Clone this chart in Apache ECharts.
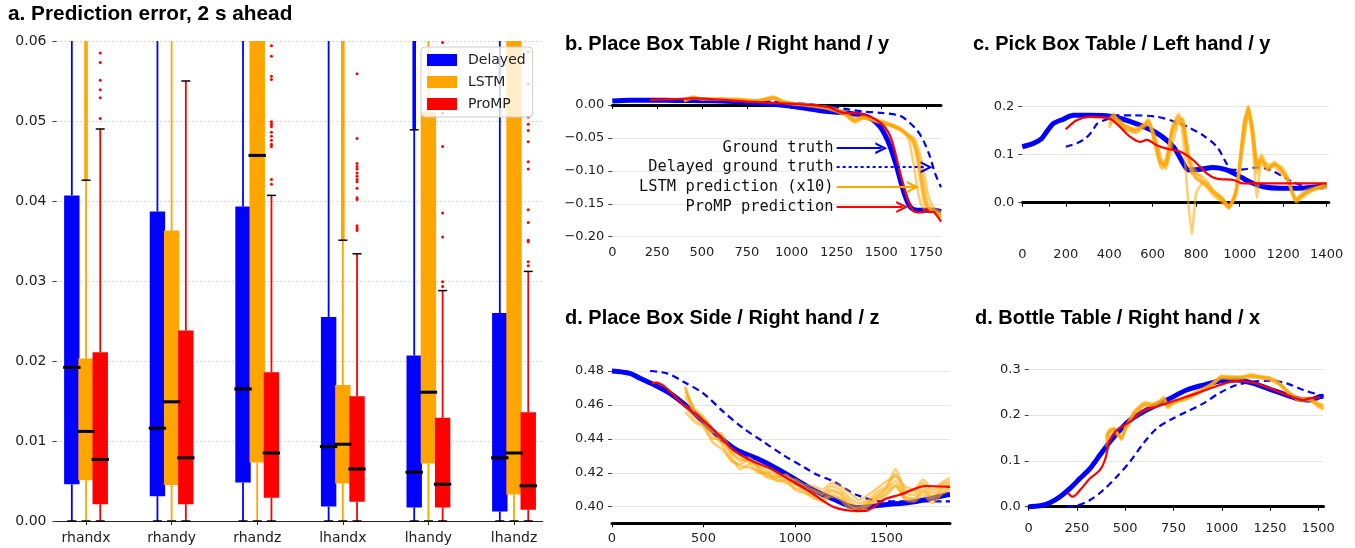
<!DOCTYPE html>
<html><head><meta charset="utf-8">
<script src="https://cdn.jsdelivr.net/npm/echarts@6/dist/echarts.min.js"></script>
<style>html,body{margin:0;padding:0;background:#fff}#c{width:1355px;height:548px}</style>
</head><body><div id="c"></div>
<script>
// ================= Panel a: prediction error box plots =================
const categories = ['rhandx', 'rhandy', 'rhandz', 'lhandx', 'lhandy', 'lhandz'];
const aYTicks = [0, 0.01, 0.02, 0.03, 0.04, 0.05, 0.06];

const delayedQ1  = [0.0046, 0.0031, 0.0048, 0.0018, 0.0017, 0.0012];
const delayedMed = [0.0192, 0.0116, 0.0165, 0.0093, 0.0061, 0.0079];
const delayedQ3  = [0.0407, 0.0387, 0.0393, 0.0255, 0.0207, 0.0260];
const delayedHi  = [0.075, 0.075, 0.075, 0.075, 0.0489, 0.075];
const delayedFlierBand = [null, null, null, null, [0.0489, 0.075], null];

const lstmQ1  = [0.0051, 0.0045, 0.0073, 0.0047, 0.0072, 0.0033];
const lstmMed = [0.0112, 0.0149, 0.0457, 0.0096, 0.0161, 0.0085];
const lstmQ3  = [0.0203, 0.0363, 0.075, 0.0170, 0.0511, 0.075];
const lstmHi  = [0.0426, 0.075, 0.075, 0.0351, 0.075, 0.075];
const lstmFlierBand = [[0.0426, 0.075], null, null, [0.0351, 0.075], null, null];

const prompQ1  = [0.0021, 0.0021, 0.0029, 0.0024, 0.0017, 0.0014];
const prompMed = [0.0077, 0.0079, 0.0085, 0.0065, 0.0046, 0.0044];
const prompQ3  = [0.0211, 0.0238, 0.0186, 0.0156, 0.0129, 0.0136];
const prompHi  = [0.0490, 0.0550, 0.0407, 0.0334, 0.0288, 0.0312];

const prompOutliersRhandx = [0.0585, 0.0573, 0.0551, 0.0539, 0.0529, 0.0503];
const prompOutliersRhandy = [];
const prompOutliersRhandz = [0.0594, 0.0581, 0.0556, 0.0552, 0.0499, 0.0496, 0.0493, 0.0486, 0.0481, 0.0476, 0.0471, 0.0468, 0.0427, 0.0421];
const prompOutliersLhandx = [0.0559, 0.0478, 0.0447, 0.0443, 0.0440, 0.0435, 0.0431, 0.0427, 0.0424, 0.0416, 0.0404, 0.0402, 0.0369, 0.0366, 0.0363];
const prompOutliersLhandy = [0.0598, 0.0510, 0.0468, 0.0385, 0.0355, 0.0299, 0.0293];
const prompOutliersLhandz = [0.0587, 0.0546, 0.0505, 0.0496, 0.0488, 0.0474, 0.0449, 0.0440, 0.0389, 0.0373, 0.0351, 0.0349, 0.0324, 0.0319];

// ================= Panel b: Place Box Table / Right hand / y =================
const bXTicks = [0, 250, 500, 750, 1000, 1250, 1500, 1750];
const bYTicks = [-0.2, -0.15, -0.1, -0.05, 0];
const bTruthX = [0, 100, 200, 300, 400, 500, 600, 700, 800, 900, 1000, 1100, 1200, 1300, 1400, 1450, 1493, 1520, 1549, 1586, 1622, 1659, 1698, 1750, 1789, 1833];
const bTruthY = [0.006, 0.007, 0.007, 0.007, 0.0068, 0.0065, 0.006, 0.005, 0.003, 0.001, -0.002, -0.006, -0.010, -0.012, -0.016, -0.022, -0.033, -0.045, -0.063, -0.094, -0.129, -0.154, -0.160, -0.160, -0.160, -0.162];
const bDelayedX = [200, 300, 400, 500, 600, 700, 800, 900, 1000, 1100, 1200, 1300, 1400, 1500, 1600, 1642, 1698, 1733, 1771, 1800, 1833];
const bDelayedY = [0.006, 0.007, 0.007, 0.007, 0.0068, 0.0065, 0.006, 0.005, 0.003, 0.001, -0.002, -0.006, -0.010, -0.012, -0.016, -0.023, -0.038, -0.053, -0.078, -0.104, -0.125];
const bPrompX = [210, 250, 350, 457, 600, 754, 900, 1033, 1200, 1289, 1380, 1440, 1500, 1540, 1569, 1605, 1642, 1676, 1700, 1732, 1751, 1770, 1789, 1810, 1833];
const bPrompY = [0.0075, 0.008, 0.009, 0.010, 0.008, 0.005, 0.003, 0.0015, -0.003, -0.012, -0.013, -0.018, -0.028, -0.042, -0.063, -0.103, -0.139, -0.160, -0.163, -0.163, -0.158, -0.163, -0.162, -0.168, -0.177];
const bLstmX = [400, 450, 500, 600, 700, 800, 900, 950, 1000, 1100, 1200, 1300, 1350, 1400, 1500, 1600, 1650, 1680, 1700, 1720, 1740, 1760, 1790, 1833];
const bLstm1 = [0.006, 0.012, 0.009, 0.009, 0.008, 0.006, 0.010, 0.005, 0.002, 0.000, -0.004, -0.014, -0.022, -0.018, -0.026, -0.036, -0.050, -0.090, -0.125, -0.150, -0.158, -0.160, -0.162, -0.168];
const bLstm2 = [0.008, 0.010, 0.010, 0.008, 0.009, 0.007, 0.013, 0.006, 0.003, -0.001, -0.005, -0.012, -0.025, -0.020, -0.027, -0.035, -0.046, -0.060, -0.085, -0.120, -0.150, -0.158, -0.160, -0.165];
const bLstm3 = [0.005, 0.011, 0.008, 0.010, 0.009, 0.006, 0.009, 0.004, 0.002, 0.000, -0.003, -0.010, -0.020, -0.017, -0.024, -0.034, -0.044, -0.052, -0.070, -0.100, -0.135, -0.155, -0.160, -0.172];
const bLstm4 = [0.007, 0.013, 0.009, 0.009, 0.007, 0.005, 0.011, 0.005, 0.001, -0.002, -0.006, -0.016, -0.027, -0.021, -0.028, -0.038, -0.048, -0.056, -0.072, -0.095, -0.125, -0.150, -0.162, -0.165];
const bLstm5 = [0.006, 0.010, 0.010, 0.008, 0.008, 0.006, 0.012, 0.006, 0.003, 0.000, -0.004, -0.013, -0.023, -0.019, -0.025, -0.036, -0.047, -0.058, -0.078, -0.110, -0.142, -0.157, -0.158, -0.170];
const bLstm6 = [0.008, 0.012, 0.009, 0.010, 0.009, 0.007, 0.010, 0.004, 0.002, -0.001, -0.005, -0.015, -0.024, -0.020, -0.026, -0.037, -0.045, -0.050, -0.060, -0.080, -0.105, -0.135, -0.155, -0.163];
const bNoteLabels = ['Ground truth', 'Delayed ground truth', 'LSTM prediction (x10)', 'ProMP prediction'];
const bNoteY = [-0.0656, -0.0944, -0.1247, -0.155];
const bNoteFromX = [1251, 1251, 1251, 1251];
const bNoteToX = [1500, 1753, 1677, 1617];

// ================= Panel c: Pick Box Table / Left hand / y =================
const cXTicks = [0, 200, 400, 600, 800, 1000, 1200, 1400];
const cYTicks = [0, 0.1, 0.2];
const cTruthX = [0, 51, 89, 112, 143, 189, 235, 311, 419, 497, 572, 633, 695, 741, 764, 817, 879, 940, 1002, 1047, 1109, 1186, 1262, 1339, 1400];
const cTruthY = [0.116, 0.123, 0.133, 0.147, 0.164, 0.173, 0.181, 0.181, 0.178, 0.168, 0.155, 0.14, 0.116, 0.081, 0.068, 0.069, 0.073, 0.068, 0.054, 0.043, 0.033, 0.030, 0.030, 0.032, 0.037];
const cDelayedX = [200, 250, 290, 320, 345, 390, 435, 510, 620, 700, 770, 830, 895, 940, 965, 1017, 1080, 1140, 1200, 1245, 1310, 1386];
const cDelayedY = [0.116, 0.123, 0.133, 0.147, 0.164, 0.173, 0.181, 0.181, 0.178, 0.168, 0.155, 0.14, 0.116, 0.081, 0.068, 0.069, 0.073, 0.068, 0.054, 0.043, 0.033, 0.030];
const cPrompX = [200, 250, 311, 403, 449, 495, 541, 572, 618, 664, 725, 787, 848, 894, 971, 1017, 1109, 1200, 1339, 1400];
const cPrompY = [0.152, 0.171, 0.178, 0.174, 0.157, 0.137, 0.126, 0.130, 0.119, 0.112, 0.106, 0.088, 0.061, 0.050, 0.047, 0.040, 0.040, 0.040, 0.040, 0.040];
const cLstmX = [400, 420, 450, 480, 520, 560, 580, 610, 640, 660, 690, 720, 740, 760, 780, 800, 840, 880, 920, 950, 980, 1000, 1020, 1040, 1060, 1080, 1100, 1130, 1160, 1190, 1220, 1260, 1300, 1350, 1400];
const cLstm1 = [0.17, 0.18, 0.17, 0.155, 0.15, 0.16, 0.165, 0.13, 0.08, 0.09, 0.15, 0.18, 0.16, 0.10, 0.07, 0.055, 0.04, 0.02, 0.005, -0.01, 0.02, 0.08, 0.16, 0.20, 0.14, 0.06, 0.09, 0.07, 0.08, 0.07, 0.05, 0.005, 0.02, 0.03, 0.035];
const cLstm2 = [0.16, 0.175, 0.165, 0.15, 0.145, 0.155, 0.17, 0.14, 0.09, 0.075, 0.12, 0.17, 0.175, 0.12, 0.06, 0.05, 0.035, 0.015, 0.0, -0.012, 0.01, 0.06, 0.14, 0.19, 0.16, 0.08, 0.10, 0.075, 0.085, 0.065, 0.045, 0.0, 0.015, 0.028, 0.032];
const cLstm3 = [0.175, 0.185, 0.16, 0.16, 0.15, 0.16, 0.175, 0.12, 0.07, 0.08, 0.16, 0.185, 0.13, 0.02, -0.065, 0.02, 0.045, 0.025, 0.01, -0.005, 0.015, 0.07, 0.15, 0.185, 0.12, 0.01, 0.085, 0.08, 0.075, 0.06, 0.05, 0.01, 0.02, 0.03, 0.04];
const cLstm4 = [0.155, 0.17, 0.17, 0.15, 0.15, 0.16, 0.165, 0.135, 0.085, 0.07, 0.14, 0.165, 0.155, 0.09, 0.06, 0.06, 0.05, 0.025, 0.01, -0.008, 0.02, 0.09, 0.17, 0.195, 0.13, 0.07, 0.095, 0.065, 0.08, 0.075, 0.055, 0.008, 0.025, 0.032, 0.038];
const cLstm5 = [0.165, 0.18, 0.165, 0.16, 0.145, 0.165, 0.17, 0.12, 0.075, 0.085, 0.155, 0.175, 0.17, 0.11, 0.08, 0.065, 0.04, 0.02, 0.005, -0.01, 0.018, 0.075, 0.13, 0.18, 0.15, 0.09, 0.08, 0.07, 0.078, 0.07, 0.048, 0.003, 0.018, 0.028, 0.03];
const cLstm6 = [0.17, 0.175, 0.165, 0.155, 0.155, 0.16, 0.16, 0.125, 0.08, 0.08, 0.15, 0.17, 0.165, 0.10, 0.075, 0.05, 0.038, 0.022, 0.008, -0.006, 0.025, 0.085, 0.165, 0.20, 0.155, 0.075, 0.09, 0.07, 0.082, 0.068, 0.052, 0.006, 0.02, 0.03, 0.034];

// ================= Panel d (left): Place Box Side / Right hand / z =================
const dXTicks = [0, 500, 1000, 1500];
const dYTicks = [0.40, 0.42, 0.44, 0.46, 0.48];
const dTruthX = [0, 98, 153, 226, 317, 390, 463, 536, 608, 681, 790, 899, 1009, 1100, 1208, 1338, 1481, 1663, 1826, 1847];
const dTruthY = [0.480, 0.4786, 0.4757, 0.4721, 0.4668, 0.4609, 0.4540, 0.4462, 0.4393, 0.4334, 0.4285, 0.4226, 0.4157, 0.4098, 0.4045, 0.3995, 0.4010, 0.4031, 0.4069, 0.4072];
const dDelayedX = [208, 300, 390, 499, 608, 718, 827, 936, 1046, 1118, 1208, 1338, 1481, 1663, 1826, 1847];
const dDelayedY = [0.480, 0.4786, 0.4737, 0.4668, 0.4560, 0.4462, 0.4383, 0.4304, 0.4235, 0.4190, 0.4150, 0.4069, 0.4031, 0.4031, 0.4031, 0.4031];
const dPrompX = [217, 240, 299, 390, 463, 536, 608, 663, 754, 863, 972, 1082, 1208, 1338, 1393, 1481, 1572, 1717, 1826, 1847];
const dPrompY = [0.4727, 0.4731, 0.4698, 0.4600, 0.4540, 0.4472, 0.4393, 0.4334, 0.4275, 0.4226, 0.4157, 0.4088, 0.4000, 0.3975, 0.3977, 0.4040, 0.4070, 0.4122, 0.4118, 0.4115];
const dLstmX = [400, 450, 500, 550, 600, 650, 700, 750, 800, 850, 900, 950, 1000, 1050, 1100, 1150, 1200, 1250, 1300, 1350, 1400, 1450, 1500, 1550, 1600, 1650, 1700, 1750, 1800, 1847];
const dLstm1 = [0.470, 0.457, 0.452, 0.445, 0.441, 0.432, 0.428, 0.427, 0.424, 0.421, 0.419, 0.418, 0.415, 0.412, 0.410, 0.408, 0.412, 0.410, 0.405, 0.402, 0.404, 0.409, 0.412, 0.422, 0.410, 0.409, 0.414, 0.408, 0.413, 0.415];
const dLstm2 = [0.465, 0.455, 0.450, 0.442, 0.437, 0.427, 0.425, 0.428, 0.422, 0.418, 0.418, 0.415, 0.413, 0.410, 0.407, 0.405, 0.409, 0.407, 0.400, 0.399, 0.402, 0.406, 0.410, 0.415, 0.406, 0.405, 0.410, 0.405, 0.410, 0.413];
const dLstm3 = [0.460, 0.452, 0.448, 0.440, 0.440, 0.430, 0.422, 0.425, 0.420, 0.420, 0.415, 0.416, 0.410, 0.408, 0.406, 0.403, 0.406, 0.404, 0.398, 0.397, 0.400, 0.404, 0.407, 0.412, 0.404, 0.403, 0.407, 0.402, 0.407, 0.410];
const dLstm4 = [0.468, 0.458, 0.453, 0.446, 0.438, 0.434, 0.430, 0.426, 0.425, 0.423, 0.420, 0.417, 0.416, 0.413, 0.412, 0.410, 0.414, 0.412, 0.408, 0.404, 0.407, 0.411, 0.415, 0.418, 0.412, 0.410, 0.416, 0.410, 0.414, 0.417];
const dLstm5 = [0.456, 0.450, 0.447, 0.438, 0.434, 0.428, 0.424, 0.423, 0.421, 0.417, 0.416, 0.414, 0.411, 0.409, 0.405, 0.404, 0.407, 0.405, 0.401, 0.398, 0.401, 0.405, 0.408, 0.413, 0.405, 0.404, 0.409, 0.404, 0.408, 0.412];
const dLstm6 = [0.471, 0.455, 0.451, 0.444, 0.443, 0.433, 0.427, 0.429, 0.423, 0.419, 0.417, 0.419, 0.414, 0.411, 0.409, 0.407, 0.410, 0.408, 0.403, 0.400, 0.403, 0.407, 0.411, 0.419, 0.408, 0.407, 0.412, 0.406, 0.411, 0.414];

// ================= Panel d (right): Bottle Table / Right hand / x =================
const eXTicks = [0, 250, 500, 750, 1000, 1250, 1500];
const eYTicks = [0, 0.1, 0.2, 0.3];
const eTruthX = [0, 59, 110, 162, 214, 266, 318, 369, 421, 473, 525, 594, 663, 732, 818, 905, 991, 1077, 1163, 1250, 1336, 1405, 1457, 1509, 1527];
const eTruthY = [0, 0.002, 0.0087, 0.0218, 0.040, 0.0619, 0.0837, 0.1128, 0.1419, 0.1674, 0.1892, 0.2074, 0.222, 0.2365, 0.2547, 0.2656, 0.2744, 0.2766, 0.2693, 0.2562, 0.2438, 0.2343, 0.2329, 0.2402, 0.2410];
const eDelayedX = [197, 249, 318, 387, 456, 525, 594, 663, 732, 818, 905, 991, 1077, 1163, 1250, 1336, 1422, 1509, 1527];
const eDelayedY = [0, 0.002, 0.0146, 0.0364, 0.0655, 0.0983, 0.1383, 0.171, 0.1892, 0.2074, 0.2256, 0.2489, 0.2656, 0.2729, 0.2751, 0.2693, 0.2547, 0.2438, 0.2420];
const ePrompX = [202, 228, 266, 318, 369, 395, 421, 456, 525, 594, 663, 766, 870, 991, 1077, 1163, 1250, 1353, 1422, 1457, 1509];
const ePrompY = [0.0306, 0.0218, 0.0364, 0.0619, 0.080, 0.1019, 0.1456, 0.1674, 0.1856, 0.2096, 0.2183, 0.2329, 0.2474, 0.2656, 0.2744, 0.2707, 0.2584, 0.2416, 0.2329, 0.2365, 0.2387];
const eLstmX = [400, 420, 440, 460, 480, 500, 520, 545, 570, 600, 640, 680, 700, 720, 750, 800, 850, 900, 950, 1000, 1050, 1100, 1150, 1200, 1250, 1300, 1350, 1400, 1450, 1500, 1527];
const eLstm1 = [0.145, 0.165, 0.17, 0.16, 0.15, 0.17, 0.185, 0.205, 0.215, 0.225, 0.222, 0.23, 0.235, 0.22, 0.228, 0.235, 0.245, 0.256, 0.268, 0.283, 0.282, 0.283, 0.286, 0.283, 0.28, 0.268, 0.248, 0.235, 0.235, 0.222, 0.218];
const eLstm2 = [0.13, 0.16, 0.168, 0.158, 0.148, 0.165, 0.18, 0.20, 0.21, 0.22, 0.22, 0.225, 0.228, 0.215, 0.225, 0.232, 0.24, 0.252, 0.265, 0.28, 0.278, 0.28, 0.282, 0.28, 0.276, 0.265, 0.245, 0.232, 0.232, 0.218, 0.212];
const eLstm3 = [0.15, 0.168, 0.165, 0.155, 0.152, 0.175, 0.19, 0.208, 0.218, 0.228, 0.225, 0.232, 0.24, 0.225, 0.23, 0.238, 0.248, 0.258, 0.27, 0.286, 0.285, 0.284, 0.289, 0.285, 0.282, 0.27, 0.25, 0.238, 0.238, 0.226, 0.222];
const eLstm4 = [0.14, 0.162, 0.17, 0.162, 0.145, 0.168, 0.182, 0.202, 0.212, 0.222, 0.218, 0.228, 0.232, 0.218, 0.226, 0.233, 0.243, 0.254, 0.266, 0.282, 0.28, 0.281, 0.284, 0.282, 0.278, 0.266, 0.246, 0.232, 0.233, 0.22, 0.214];
const eLstm5 = [0.155, 0.17, 0.172, 0.16, 0.155, 0.172, 0.186, 0.206, 0.216, 0.226, 0.224, 0.23, 0.236, 0.222, 0.228, 0.236, 0.246, 0.257, 0.269, 0.284, 0.283, 0.282, 0.287, 0.284, 0.28, 0.269, 0.249, 0.236, 0.236, 0.225, 0.22];

// ================= styling / layout constants =================
const BLUE = '#0000ff', ORANGE = '#ffa500', RED = '#ff0000';
const TICK_FONT = 'DejaVu Sans';
const TITLE_FONT = 'Liberation Sans';
const A_YMAX = 0.06;
const BOX_W = 0.18;
const CAP_HALF = 4.5;
const OFFSETS = [-0.166, 0, 0.166];

const zip = (xs, ys) => xs.map((x, i) => [x, ys[i]]);

function boxSeries(name, color, offset, q1, med, q3, hi, band) {
  const data = categories.map((c, i) => [i + 1, q1[i], med[i], q3[i], hi[i],
    band[i] ? band[i][0] : -1, band[i] ? band[i][1] : -1]);
  return {
    type: 'custom', name, xAxisIndex: 0, yAxisIndex: 0, data,
    itemStyle: { color }, silent: true, animation: false,
    renderItem: (params, api) => {
      const pos = api.value(0) + offset;
      const clampV = v => Math.min(v, A_YMAX);
      const py = v => api.coord([pos, clampV(v)])[1];
      const cx = api.coord([pos, 0])[0];
      const half = api.size([BOX_W, 0])[0] / 2;
      const y0 = py(0), yq1 = py(api.value(1)), ymed = py(api.value(2)),
            yq3 = py(api.value(3)), yhi = py(api.value(4));
      const ch = [];
      ch.push({ type: 'line', shape: { x1: cx, y1: y0, x2: cx, y2: yq1 }, style: { stroke: color, lineWidth: 1.8 } });
      ch.push({ type: 'line', shape: { x1: cx, y1: yq3, x2: cx, y2: yhi }, style: { stroke: color, lineWidth: 1.8 } });
      const bl = api.value(5), bh = api.value(6);
      if (bl >= 0) ch.push({ type: 'line', shape: { x1: cx, y1: py(bl), x2: cx, y2: py(bh) }, style: { stroke: color, lineWidth: 3.6 } });
      ch.push({ type: 'rect', shape: { x: cx - half, y: yq3, width: 2 * half, height: yq1 - yq3 }, style: { fill: color } });
      if (api.value(4) <= A_YMAX) ch.push({ type: 'line', shape: { x1: cx - CAP_HALF, y1: yhi, x2: cx + CAP_HALF, y2: yhi }, style: { stroke: '#000', lineWidth: 1.5 } });
      ch.push({ type: 'line', shape: { x1: cx - CAP_HALF, y1: y0, x2: cx + CAP_HALF, y2: y0 }, style: { stroke: '#000', lineWidth: 1.5 } });
      ch.push({ type: 'line', z2: 50, shape: { x1: cx - half - 1, y1: ymed, x2: cx + half + 1, y2: ymed }, style: { stroke: '#000', lineWidth: 3 } });
      return { type: 'group', children: ch };
    }
  };
}

const outlierLists = [prompOutliersRhandx, prompOutliersRhandy, prompOutliersRhandz, prompOutliersLhandx, prompOutliersLhandy, prompOutliersLhandz];
const outlierData = [];
outlierLists.forEach((lst, i) => lst.forEach(v => outlierData.push([i + 1, v])));

const outlierSeries = {
  type: 'custom', name: 'ProMP outliers', xAxisIndex: 0, yAxisIndex: 0, data: outlierData,
  silent: true, animation: false, itemStyle: { color: RED },
  renderItem: (params, api) => {
    const p = api.coord([api.value(0) + OFFSETS[2], api.value(1)]);
    return { type: 'circle', shape: { cx: p[0], cy: p[1], r: 1.5 }, style: { fill: RED } };
  }
};

function lineS(axis, xs, ys, kind) {
  const base = { type: 'line', xAxisIndex: axis, yAxisIndex: axis, data: zip(xs, ys),
    showSymbol: false, symbol: 'none', silent: true, animation: false, smooth: 0.3 };
  if (kind === 'truth') return Object.assign(base, { name: 'Ground truth', lineStyle: { color: BLUE, width: 5 } });
  if (kind === 'delayed') return Object.assign(base, { name: 'Delayed ground truth', lineStyle: { color: BLUE, width: 2.2, type: [7, 4.5] } });
  if (kind === 'lstm') return Object.assign(base, { name: 'LSTM prediction', smooth: 0.2, lineStyle: { color: ORANGE, width: 2.5, opacity: 0.55 } });
  return Object.assign(base, { name: 'ProMP prediction', lineStyle: { color: RED, width: 2.2 } });
}

function panelSeries(axis, tx, ty, dx, dy, lx, lstms, px, py) {
  const s = [lineS(axis, tx, ty, 'truth'), lineS(axis, dx, dy, 'delayed')];
  lstms.forEach(l => s.push(lineS(axis, lx, l, 'lstm')));
  s.push(lineS(axis, px, py, 'promp'));
  return s;
}

const ARROW = 'path://M0,12 L6,0 L12,12 L9.6,12 L6,4.6 L2.4,12 Z';
const noteColors = [BLUE, BLUE, ORANGE, RED];
const noteTypes = ['solid', [3, 3], 'solid', 'solid'];
const bSeries = panelSeries(1, bTruthX, bTruthY, bDelayedX, bDelayedY, bLstmX, [bLstm1, bLstm2, bLstm3, bLstm4, bLstm5, bLstm6], bPrompX, bPrompY);
bSeries.push({
  type: 'line', xAxisIndex: 1, yAxisIndex: 1, data: [], silent: true, animation: false,
  markLine: {
    silent: true, animation: false, symbol: ['none', ARROW], symbolSize: 12,
    emphasis: { disabled: true },
    data: bNoteLabels.map((t, i) => [
      { coord: [bNoteFromX[i], bNoteY[i]], name: t,
        symbol: 'none', symbolSize: 12,
        lineStyle: { color: noteColors[i], width: 1.8, type: noteTypes[i] },
        itemStyle: { color: noteColors[i] },
        label: { show: true, position: 'start', formatter: t, distance: 3, color: '#111',
                 fontFamily: 'DejaVu Sans Mono', fontSize: 15.4 } },
      { coord: [bNoteToX[i], bNoteY[i]], symbol: ARROW, symbolSize: 12, itemStyle: { color: noteColors[i] } }
    ])
  }
});

const cSeries = panelSeries(2, cTruthX, cTruthY, cDelayedX, cDelayedY, cLstmX, [cLstm1, cLstm2, cLstm3, cLstm4, cLstm5, cLstm6], cPrompX, cPrompY);
const dSeries = panelSeries(3, dTruthX, dTruthY, dDelayedX, dDelayedY, dLstmX, [dLstm1, dLstm2, dLstm3, dLstm4, dLstm5, dLstm6], dPrompX, dPrompY);
const eSeries = panelSeries(4, eTruthX, eTruthY, eDelayedX, eDelayedY, eLstmX, [eLstm1, eLstm2, eLstm3, eLstm4, eLstm5], ePrompX, ePrompY);

// ----- axes -----
const minus = s => s.replace('-', '\u2212');
function lineXAxis(idx, min, max, ticks) {
  return { type: 'value', gridIndex: idx, min, max,
    axisLine: { show: true, lineStyle: { color: '#000', width: 3 } },
    axisTick: { show: true, length: 4, customValues: ticks, lineStyle: { color: '#000', width: 1 } },
    axisLabel: { customValues: ticks, fontFamily: TICK_FONT, fontSize: 13, color: '#222', margin: 9, formatter: v => String(Math.round(v)) },
    splitLine: { show: false } };
}
function lineYAxis(idx, min, max, ticks, digits) {
  return { type: 'value', gridIndex: idx, min, max,
    axisLine: { show: false },
    axisTick: { show: true, length: 4, customValues: ticks, lineStyle: { color: '#444', width: 1 } },
    axisLabel: { customValues: ticks, fontFamily: TICK_FONT, fontSize: 13, color: '#222', margin: 8, formatter: v => minus(v.toFixed(digits)) },
    splitLine: { show: true, lineStyle: { color: '#e6e6e6', width: 1.2 } } };
}

const titleStyle = size => ({ fontFamily: TITLE_FONT, fontWeight: 'bold', fontSize: size, color: '#000' });
const option = {
  backgroundColor: '#ffffff',
  animation: false,
  title: [
    { text: 'a. Prediction error, 2 s ahead', left: 8, top: 4, padding: 0, textStyle: titleStyle(20.8) },
    { text: 'b. Place Box Table / Right hand / y', left: 565, top: 34, padding: 0, textStyle: titleStyle(20) },
    { text: 'c. Pick Box Table / Left hand / y', left: 973, top: 34, padding: 0, textStyle: titleStyle(20) },
    { text: 'd. Place Box Side / Right hand / z', left: 565, top: 308, padding: 0, textStyle: titleStyle(20) },
    { text: 'd. Bottle Table / Right hand / x', left: 975, top: 308, padding: 0, textStyle: titleStyle(20) }
  ],
  legend: {
    data: ['Delayed', 'LSTM', 'ProMP'], orient: 'vertical', left: 421, top: 47,
    icon: 'rect', itemWidth: 30, itemHeight: 12, itemGap: 8, selectedMode: false,
    padding: [6, 7, 6, 6], backgroundColor: 'rgba(255,255,255,0.8)', borderColor: '#cccccc', borderWidth: 1, borderRadius: 4,
    textStyle: { fontFamily: TICK_FONT, fontSize: 14, color: '#222', padding: [0, 0, 0, 6] }
  },
  grid: [
    { left: 56.5, top: 41, width: 486.2, height: 480 },
    { left: 612.3, top: 91.8, width: 328.7, height: 144.9 },
    { left: 1022.3, top: 96.5, width: 306.5, height: 142.2 },
    { left: 612, top: 362.5, width: 338, height: 160.8 },
    { left: 1028.7, top: 364.7, width: 294.8, height: 148.6 }
  ],
  xAxis: [
    { type: 'value', gridIndex: 0, min: 0.655, max: 6.335,
      axisLine: { show: true, lineStyle: { color: '#222', width: 1.2 } },
      axisTick: { show: true, length: 4, customValues: [1, 2, 3, 4, 5, 6], lineStyle: { color: '#222' } },
      axisLabel: { customValues: [1, 2, 3, 4, 5, 6], fontFamily: TICK_FONT, fontSize: 14, color: '#222', margin: 10,
                   formatter: v => categories[Math.round(v) - 1] },
      splitLine: { show: false } },
    lineXAxis(1, 0, 1833, bXTicks),
    lineXAxis(2, 0, 1410, cXTicks),
    lineXAxis(3, 0, 1847, dXTicks),
    lineXAxis(4, 0, 1527, eXTicks)
  ],
  yAxis: [
    { type: 'value', gridIndex: 0, min: 0, max: A_YMAX,
      axisLine: { show: false },
      axisTick: { show: true, length: 4, customValues: aYTicks, lineStyle: { color: '#333' } },
      axisLabel: { customValues: aYTicks, fontFamily: TICK_FONT, fontSize: 14, color: '#222', margin: 10, formatter: v => v.toFixed(2) },
      splitLine: { show: true, lineStyle: { color: '#c8c8c8', width: 1, type: [1.5, 2.5] } } },
    lineYAxis(1, -0.2, 0.02, bYTicks, 2),
    lineYAxis(2, -0.0745, 0.22, cYTicks, 1),
    lineYAxis(3, 0.3902, 0.485, dYTicks, 2),
    lineYAxis(4, -0.0144, 0.31, eYTicks, 1)
  ],
  series: [
    boxSeries('Delayed', BLUE, OFFSETS[0], delayedQ1, delayedMed, delayedQ3, delayedHi, delayedFlierBand),
    boxSeries('LSTM', ORANGE, OFFSETS[1], lstmQ1, lstmMed, lstmQ3, lstmHi, lstmFlierBand),
    boxSeries('ProMP', RED, OFFSETS[2], prompQ1, prompMed, prompQ3, prompHi, [null, null, null, null, null, null]),
    outlierSeries
  ].concat(bSeries, cSeries, dSeries, eSeries)
};

const chart = echarts.init(document.getElementById('c'), null, { renderer: 'canvas' });
chart.setOption(option);
</script>
</body></html>
